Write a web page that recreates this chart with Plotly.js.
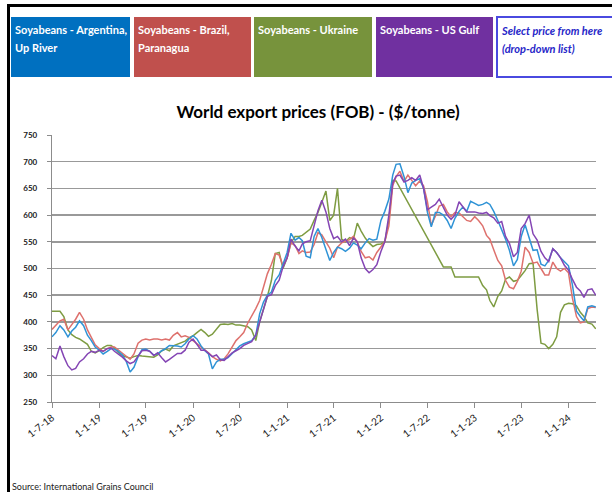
<!DOCTYPE html>
<html>
<head>
<meta charset="utf-8">
<script src="https://cdn.plot.ly/plotly-3.0.1.min.js"></script>
<style>
  html, body { margin:0; padding:0; background:#fff; }
  #wrap { position:relative; width:612px; height:492px; overflow:hidden; background:#fff; font-family: Lato, "Open Sans", sans-serif; }
  #chart { position:absolute; left:0; top:0; width:612px; height:492px; }
  .frame { position:absolute; left:7px; top:4px; width:640px; height:520px; border-left:3px solid #000; border-top:3px solid #000; box-sizing:border-box; pointer-events:none; }
  .box { position:absolute; top:16px; height:62px; box-sizing:border-box; color:#fff; font-weight:bold; font-size:11px; line-height:18px; padding:4px 0 0 4px; border:1px solid #fff; }
  .sel { background:#fff; color:#2626c8; font-style:italic; border:2px solid #4a4ae0; }
  .src { position:absolute; left:12px; top:481px; font-size:9px; color:#222; }
</style>
</head>
<body>
<div id="wrap">
  <div id="chart"></div>
  <div class="frame"></div>
  <div class="box" style="left:10px;width:121px;background:#0070C0;">Soyabeans - Argentina,<br>Up River</div>
  <div class="box" style="left:133px;width:119px;background:#C0504D;">Soyabeans - Brazil,<br>Paranagua</div>
  <div class="box" style="left:253px;width:120px;background:#77933C;">Soyabeans - Ukraine</div>
  <div class="box" style="left:375px;width:119px;background:#7030A0;">Soyabeans - US Gulf</div>
  <div class="box sel" style="left:496px;width:130px;">Select price from here<br>(drop-down list)</div>
  <div class="src">Source: International Grains Council</div>
</div>
<script>
// Semi-monthly observation dates, Jul 2018 - Apr 2024
const dates = [];
(function(){
  let y = 2018, mo = 7;
  while (!(y === 2024 && mo > 4)) {
    const mm = (mo < 10 ? '0' : '') + mo;
    dates.push(y + '-' + mm + '-01', y + '-' + mm + '-16');
    mo++; if (mo > 12) { mo = 1; y++; }
  }
})();

const seriesNames = ['Soyabeans - Argentina, Up River', 'Soyabeans - Brazil, Paranagua', 'Soyabeans - Ukraine', 'Soyabeans - US Gulf'];
const seriesColors = ['#2F93D6', '#DE716D', '#7E9C42', '#8445B4'];

const argentina = [
  372,380,393,385,372,383,390,402,393,375,365,353,347,340,
  345,350,349,345,338,326,306,315,335,348,349,345,338,340,
  346,350,356,356,355,353,359,368,374,368,355,346,340,312,
  325,330,330,333,341,348,355,359,362,365,375,415,437,450,
  456,478,488,510,530,566,553,558,552,523,520,560,575,558,
  537,515,530,540,537,532,538,548,544,537,548,556,553,555,
  590,607,630,675,695,696,672,642,660,665,668,650,605,578,
  605,605,600,590,575,594,607,615,607,626,622,618,620,624,
  620,607,590,573,555,534,505,517,560,582,555,534,535,508,
  505,515,537,530,520,512,505,470,420,410,402,428,430,428
];
const brazil = [
  386,394,402,405,385,395,405,418,405,385,370,357,350,345,
  350,353,353,347,342,336,330,340,360,366,368,366,368,368,
  366,368,366,375,380,372,374,371,365,358,352,348,342,335,
  330,327,331,340,352,365,372,380,398,410,425,440,465,490,
  508,528,525,505,520,548,543,528,533,530,531,545,567,563,
  550,538,520,540,548,551,554,560,550,532,520,522,516,530,
  540,550,580,655,672,682,663,675,665,655,664,655,625,581,
  598,617,620,606,597,605,604,596,590,588,597,590,580,562,
  555,535,515,505,478,465,462,476,495,540,530,510,512,500,
  488,488,512,500,495,500,492,445,410,398,400,425,428,427
];
const ukraine = [
  420,420,420,410,385,376,371,368,363,358,345,342,346,352,
  356,356,351,343,337,334,332,335,337,336,335,334,334,338,
  346,349,346,355,358,361,364,370,374,380,386,380,373,377,
  386,395,396,395,397,394,394,393,391,385,365,400,422,447,
  478,528,530,500,520,548,560,560,562,568,574,590,605,624,
  645,590,600,650,555,550,558,555,585,570,557,548,541,545,
  546,550,590,665,664,null,null,null,null,null,null,null,null,null,
  null,null,503,503,503,484,484,484,484,484,484,484,468,460,
  440,428,448,458,480,484,476,478,487,496,509,510,423,360,
  358,350,358,372,418,432,435,434,430,418,410,398,396,387
];
const usGulf = [
  337,331,355,335,318,310,313,325,331,340,345,343,347,345,
  350,351,345,340,334,327,322,325,337,346,347,345,337,342,
  333,325,330,336,341,341,347,362,368,358,347,347,342,335,
  338,329,328,335,342,346,350,356,359,363,375,400,425,448,
  451,468,478,503,520,555,542,533,546,550,552,582,608,628,
  606,575,556,560,550,555,543,557,550,520,500,492,498,507,
  532,550,600,660,673,675,662,665,670,665,675,650,610,615,
  620,630,615,600,592,600,625,615,606,606,606,604,603,605,
  599,595,585,588,560,547,522,530,575,584,600,565,553,532,
  520,513,537,530,520,506,497,480,465,458,446,460,462,450
];

const tickDates = ['2018-07-01','2019-01-01','2019-07-01','2020-01-01','2020-07-01','2021-01-01',
                   '2021-07-01','2022-01-01','2022-07-01','2023-01-01','2023-07-01','2024-01-01'];
const tickLabels = ['1-7-18','1-1-19','1-7-19','1-1-20','1-7-20','1-1-21',
                    '1-7-21','1-1-22','1-7-22','1-1-23','1-7-23','1-1-24'];
const yTicks = [250,300,350,400,450,500,550,600,650,700,750];

const allSeries = [argentina, brazil, ukraine, usGulf];
const traces = allSeries.map((vals, i) => ({
  type: 'scatter', mode: 'lines', name: seriesNames[i],
  x: dates, y: vals, connectgaps: true,
  line: { color: seriesColors[i], width: 1.5 }
}));
// draw order: Ukraine, Brazil, Argentina, US Gulf on top
const ordered = [traces[2], traces[1], traces[0], traces[3]];

const layout = {
  width: 612, height: 492,
  paper_bgcolor: 'rgba(0,0,0,0)', plot_bgcolor: '#fff',
  margin: { l: 52, r: 16, t: 135, b: 90 },
  showlegend: false,
  font: { family: 'Lato, "Open Sans", sans-serif', color: '#222' },
  title: {
    text: 'World export prices (FOB) - ($/tonne)',
    font: { size: 17, weight: 'bold', color: '#000', family: 'Lato, "Open Sans", sans-serif' },
    xref: 'paper', x: 0.489, xanchor: 'center',
    yref: 'container', y: 1 - 112/492, yanchor: 'middle'
  },
  xaxis: {
    type: 'date', range: ['2018-07-01', '2024-04-17'],
    tickmode: 'array', tickvals: tickDates, ticktext: tickLabels,
    tickangle: -38, tickfont: { size: 10, color: '#1a1a1a' },
    ticks: 'outside', ticklen: 5, tickcolor: '#8c8c8c', tickwidth: 1,
    showgrid: false, showline: true, linecolor: '#8c8c8c', linewidth: 1.2,
    zeroline: false, fixedrange: true
  },
  yaxis: {
    range: [250, 750], tickmode: 'array', tickvals: yTicks,
    tickfont: { size: 8, color: '#1a1a1a', weight: 'bold' },
    ticks: 'outside', ticklen: 4, tickcolor: '#8c8c8c', ticklabelstandoff: 8,
    showgrid: true, gridcolor: '#999999', gridwidth: 1.5,
    showline: true, linecolor: '#8c8c8c', linewidth: 1.2,
    zeroline: false, fixedrange: true
  }
};

Plotly.newPlot('chart', ordered, layout, { staticPlot: true, displayModeBar: false });
</script>
</body>
</html>
